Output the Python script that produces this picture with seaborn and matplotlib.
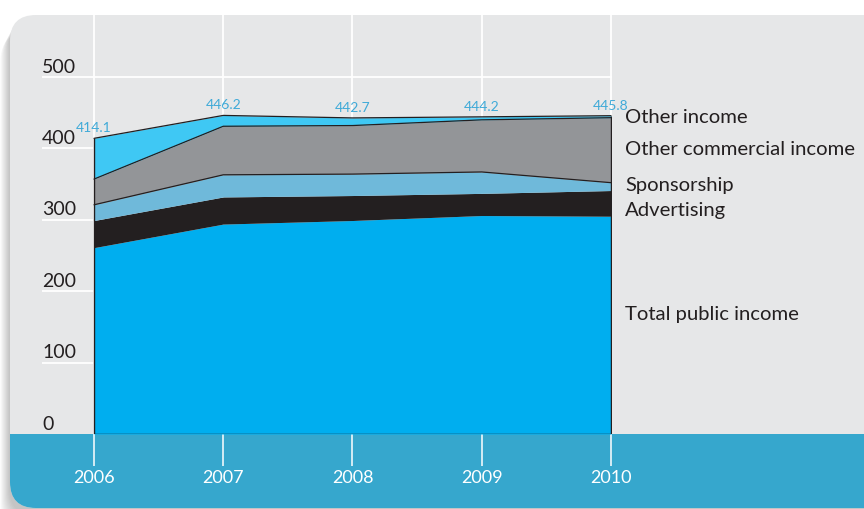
import numpy as np
import pandas as pd
import matplotlib
matplotlib.use("Agg")
import matplotlib.pyplot as plt
import matplotlib.transforms as mtransforms
from matplotlib.patches import FancyBboxPatch, Rectangle
import seaborn as sns

# Data (EUR m)
years = [2006, 2007, 2008, 2009, 2010]
public_income = [261, 294, 299, 306, 305]
advertising = [38, 38, 35, 31, 36]
sponsorship = [22, 31, 30, 30, 11]
other_commercial = [36, 68, 68, 73, 91]
other_income = [57.1, 15.2, 10.7, 4.2, 2.8]
totals = [414.1, 446.2, 442.7, 444.2, 445.8]
y_ticks = [0, 100, 200, 300, 400, 500]

layer_names = ["Total public income", "Advertising", "Sponsorship",
               "Other commercial income", "Other income"]
layer_colors = ["#00AEEF", "#231F20", "#6FB9DA", "#939598", "#3FC8F4"]

df = pd.DataFrame({
    "Total public income": public_income,
    "Advertising": advertising,
    "Sponsorship": sponsorship,
    "Other commercial income": other_commercial,
    "Other income": other_income,
}, index=years)
cum = df[layer_names].cumsum(axis=1)

sns.set_style("white")
plt.rcParams["font.family"] = ["Lato", "DejaVu Sans"]

PANEL = "#E6E7E8"
BAND = "#36A7CD"
LABEL_BLUE = "#3FAAD8"
DARK = "#231F20"

fig = plt.figure(figsize=(8.64, 5.09), dpi=100)
fig.patch.set_facecolor("white")

# background panel in pixel coordinates
bg = fig.add_axes([0, 0, 1, 1])
bg.set_xlim(0, 864)
bg.set_ylim(509, 0)
bg.axis("off")
for k in range(12):
    sh = FancyBboxPatch((10 - 0.8 * (k + 1), 15 + 1.5 * (k + 1)), 900, 500,
                        boxstyle="round,pad=0,rounding_size=28",
                        fc="black", ec="none", alpha=0.02)
    bg.add_patch(sh)
panel = FancyBboxPatch((10, 15), 900, 493,
                       boxstyle="round,pad=0,rounding_size=26",
                       fc=PANEL, ec="none")
bg.add_patch(panel)
band = Rectangle((0, 434), 900, 80, fc=BAND, ec="none")
bg.add_patch(band)
band.set_clip_path(panel)

# main chart axes
ax = fig.add_axes([42 / 864, 75 / 509, 570 / 864, 419 / 509])
ax.patch.set_alpha(0)
px_per_year = (611 - 94) / 4
ax.set_xlim(2006 - 52 / px_per_year, 2010 + 1 / px_per_year)
ax.set_ylim(0, 419 / 0.714)
for s in ax.spines.values():
    s.set_visible(False)
ax.set_xticks([])
ax.set_yticks([])

# gridlines
for v in y_ticks[1:]:
    ax.axhline(v, color="white", lw=1.3, zorder=1)
for yr in years:
    ax.axvline(yr, color="white", lw=1.3, zorder=1)
ax.vlines(years, -45, 0, color="white", lw=1.1, clip_on=False, zorder=1)

# stacked areas
lower = np.zeros(len(years))
for name, col in zip(layer_names, layer_colors):
    upper = cum[name].values
    ax.fill_between(years, lower, upper, color=col, lw=0, zorder=2)
    lower = upper

# outlines
for name in ["Sponsorship", "Other commercial income", "Other income"]:
    sns.lineplot(x=years, y=cum[name].values, color=DARK, lw=0.9,
                 ax=ax, legend=False, zorder=3)
top = cum["Other income"].values
ax.vlines([years[0], years[-1]], 0, [top[0], top[-1]], color=DARK, lw=1.0, zorder=3)
ax.hlines(0, years[0], years[-1], color=DARK, lw=1.0, zorder=3)
ax.set_xlabel("")
ax.set_ylabel("")

# y tick labels (sit just above gridlines)
ytrans = mtransforms.blended_transform_factory(ax.transAxes, ax.transData)
for v in y_ticks:
    ax.text(0.0, v + 2, str(v), transform=ytrans, ha="left", va="bottom",
            fontsize=14, color=DARK)

# total value labels
for yr, t in zip(years, totals):
    ax.annotate(f"{t:.1f}", (yr, t), xytext=(0, 3), textcoords="offset points",
                ha="center", va="bottom", fontsize=10, color=LABEL_BLUE)

# year labels in the band
for yr in years:
    ax.text(yr, -62, str(yr), ha="center", va="center", fontsize=13,
            color="white", clip_on=False,
            family=["Liberation Sans Narrow", "Lato"])

# series labels to the right
label_y = {"Other income": 443, "Other commercial income": 398,
           "Sponsorship": 348, "Advertising": 313, "Total public income": 168}
for name, yv in label_y.items():
    ax.annotate(name, (years[-1], yv), xytext=(10, 0), textcoords="offset points",
                ha="left", va="center", fontsize=14.6, color=DARK,
                annotation_clip=False)

fig.savefig("out.png", dpi=100)
